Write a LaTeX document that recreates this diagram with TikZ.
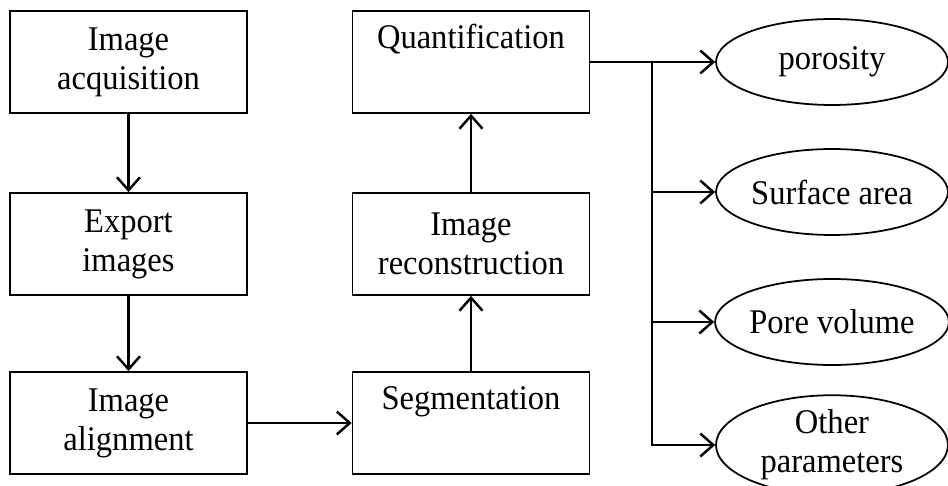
\documentclass[tikz,border=0pt]{standalone}
\usepackage{fontspec}
\setmainfont{Liberation Serif}[FakeStretch=0.94]
\usetikzlibrary{arrows.meta,shapes.geometric}
\tikzset{
  stepbox/.style={draw, line width=1pt, minimum width=4.74cm, minimum height=2.04cm, align=center, inner sep=0pt},
  result/.style={draw, ellipse, line width=1pt, minimum width=4.64cm, minimum height=1.72cm, align=center, inner sep=0pt},
  link/.style={-{Straight Barb[length=2.6mm,width=4.6mm,line width=1.4pt]}, line width=1.5pt},
}
\begin{document}
\begin{tikzpicture}[x=0.02cm,y=-0.02cm,font=\fontsize{19.7}{22.2}\selectfont]
    \useasboundingbox (0,0) rectangle (948,486);

    % Processing steps
    \node[stepbox] (acq) at (128.5,62) {Image\\acquisition};
    \node[stepbox] (export) at (128.5,244) {Export\\images};
    \node[stepbox] (align) at (128.5,423) {Image\\alignment};
    \node[stepbox] (seg) at (471,423) {Segmentation\\\strut};
    \node[stepbox] (recon) at (471,244) {Image\\reconstruction};
    \node[stepbox] (quant) at (471,62) {Quantification\\\strut};

    % Results
    \node[result] (poro) at (832,62) {porosity};
    \node[result] (surf) at (832,192) {Surface area};
    \node[result] (pore) at (832,322) {Pore volume};
    \node[result] (other) at (832,445) {Other\\parameters};

    % Arrows
    \draw[link] (acq) -- (export);
    \draw[link] (export) -- (align);
    \draw[link] (align) -- (seg);
    \draw[link] (seg) -- (recon);
    \draw[link] (recon) -- (quant);

    \coordinate (fork) at (652,62);
    \draw[link] (quant.east) -- (poro.west);
    \draw[link] (fork) |- (other.west);
    \draw[link] (fork |- surf.west) -- (surf.west);
    \draw[link] (fork |- pore.west) -- (pore.west);

\end{tikzpicture}
\end{document}
